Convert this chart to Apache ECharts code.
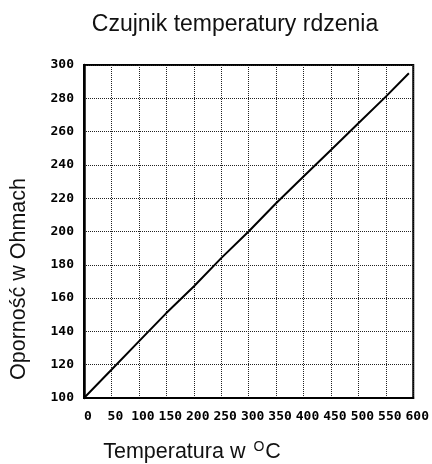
<!DOCTYPE html>
<html><head><meta charset="utf-8">
<script src="https://cdn.jsdelivr.net/npm/echarts@6/dist/echarts.min.js"></script>
<style>html,body{margin:0;padding:0;background:#fff}#c{width:432px;height:464px}</style>
</head><body><div id="c"></div>
<script>
const titleText = "Czujnik temperatury rdzenia";
const xName = "Temperatura w ";
const yName = "Oporność w Ohmach";
const temperatures = [0, 50, 100, 150, 200, 250, 300, 350, 400, 450, 500, 550, 592];
const resistance = [100, 117, 134, 151, 167, 184, 200, 217, 233, 249, 265, 281, 295];

const chart = echarts.init(document.getElementById('c'));
const tickFont = {fontFamily: 'DejaVu Sans Mono', fontWeight: 'bold', fontSize: 13, color: '#000'};
chart.setOption({
  animation: false,
  backgroundColor: '#fff',
  title: {text: titleText, left: 230, textAlign: 'center', top: 8,
    textStyle: {fontFamily: 'Liberation Sans', fontWeight: 'normal', fontSize: 23, color: '#111'}},
  grid: {left: 84, right: 17, top: 65, bottom: 66, show: true, borderColor: '#000', borderWidth: 2, backgroundColor: 'transparent'},
  xAxis: {type: 'value', min: 0, max: 600, interval: 50,
    axisLine: {show: true, lineStyle: {color: '#000', width: 2}},
    axisTick: {show: false},
    axisLabel: Object.assign({margin: 12, padding: [0, 0, 0, 8]}, tickFont),
    splitLine: {show: true, lineStyle: {type: 'dotted', color: '#222', width: 1}}},
  yAxis: {type: 'value', min: 100, max: 300, interval: 20,
    axisLine: {show: true, lineStyle: {color: '#000', width: 2.5}},
    axisTick: {show: false},
    axisLabel: Object.assign({margin: 10}, tickFont),
    splitLine: {show: true, lineStyle: {type: 'dotted', color: '#222', width: 1}}},
  graphic: [
    {type: 'text', x: 19, y: 279, rotation: Math.PI / 2,
      style: {text: yName, fontFamily: 'Liberation Sans', fontSize: 21.5, fill: '#111', textAlign: 'center', textVerticalAlign: 'middle'}},
    {type: 'text', x: 192, y: 452,
      style: {text: xName + '{sup|O}C', fontFamily: 'Liberation Sans', fontSize: 21.5, fill: '#111', textAlign: 'center', textVerticalAlign: 'middle',
        rich: {sup: {fontSize: 14, fontFamily: 'Liberation Sans', fill: '#111', verticalAlign: 'top', padding: [0, 1, 9, 2]}}}}
  ],
  series: [{type: 'line', data: temperatures.map((t, i) => [t, resistance[i]]), showSymbol: false,
    lineStyle: {color: '#000', width: 2}}]
});
</script></body></html>
